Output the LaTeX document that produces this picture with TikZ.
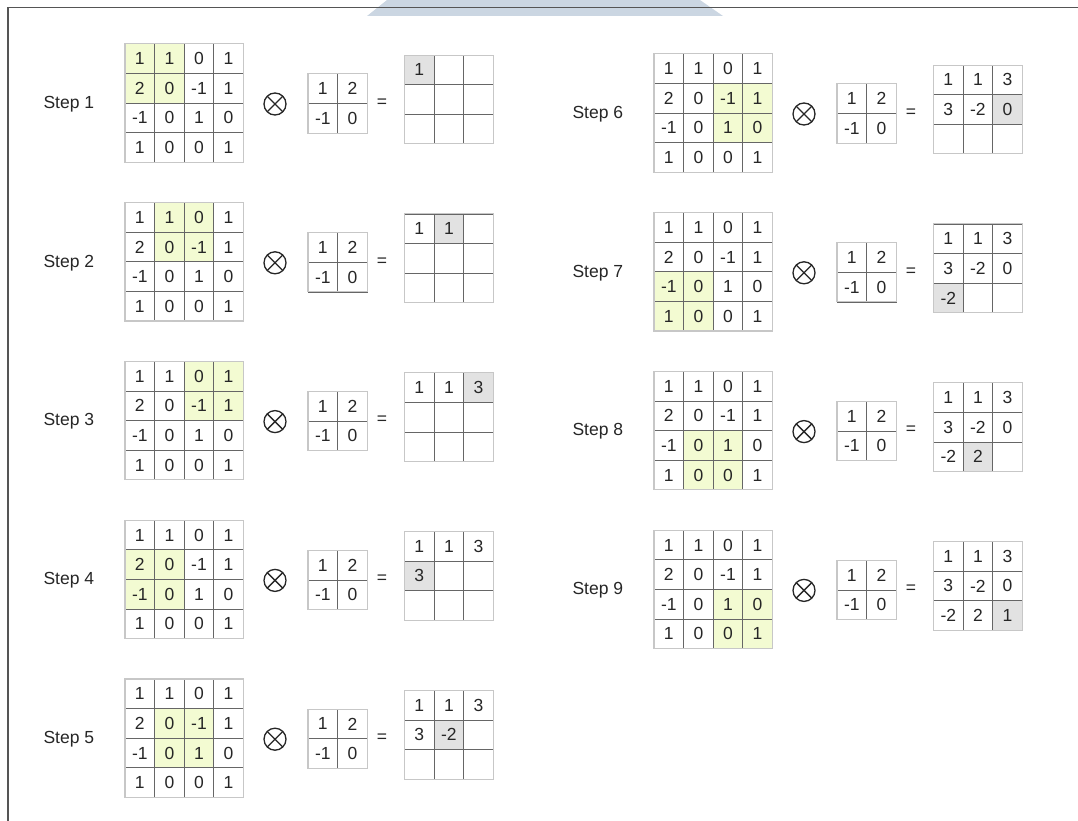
\documentclass[tikz,border=0pt]{standalone}
\usepackage{fontspec}
\setmainfont{Liberation Sans}
\usepackage{tikz}

\definecolor{window}{HTML}{F3FBD2}
\definecolor{current}{HTML}{E2E2E2}
\definecolor{tab}{HTML}{CBD6E2}
\definecolor{frameline}{HTML}{555555}

\begin{document}
\begin{tikzpicture}[x=1pt, y=-1pt,
	every node/.style={font=\fontsize{17.5}{20}\selectfont, text=black!85},
	cell/.style={draw=black!60, line width=0.8pt, minimum size=29.6pt, inner sep=0pt, outer sep=0pt},
	border/.style={draw=black!22, line width=1.1pt},
	otimes/.style={circle, draw=black!85, line width=1.3pt, minimum size=22pt, inner sep=0pt,
		path picture={\draw[black!85, line width=1.3pt]
			(path picture bounding box.north west) -- (path picture bounding box.south east)
			(path picture bounding box.north east) -- (path picture bounding box.south west);}}]
	\useasboundingbox (0,0) rectangle (1078,821);
	\fill[tab] (387,0) -- (700,0) -- (723,16) -- (367,16) -- cycle;
	\draw[frameline, line width=1.5pt] (8,821) -- (8,7.5) -- (1078,7.5);
	\foreach \k in {1,...,9} {
		\pgfmathtruncatemacro\col{\k>5}
		\pgfmathsetmacro\dx{529*\col}
		\pgfmathsetmacro\cy{\col==0 ? 103+158.8*(\k-1) : 113+158.8*(\k-6)}
		\pgfmathtruncatemacro\wr{int((\k-1)/3)}
		\pgfmathtruncatemacro\wc{mod(\k-1,3)}
		\pgfmathtruncatemacro\last{\k-1}
		\node[anchor=west] (lbl\k) at (40+\dx, \cy+1) {Step \k};
		\foreach \v [count=\n from 0] in {1,1,0,1,2,0,-1,1,-1,0,1,0,1,0,0,1} {
			\pgfmathtruncatemacro\ir{int(\n/4)}
			\pgfmathtruncatemacro\ic{mod(\n,4)}
			\pgfmathtruncatemacro\hl{(\ir>=\wr)&&(\ir<=\wr+1)&&(\ic>=\wc)&&(\ic<=\wc+1)}
			\ifnum\hl=1 \def\tone{window}\else\def\tone{white}\fi
			\node[cell, fill=\tone] (in\k-\n) at (125+\dx+29.6*\ic+14.8, \cy-59.2+29.6*\ir+14.8) {\v};
		}
		\draw[border] (in\k-0.north west) rectangle (in\k-15.south east);
		\node[otimes] (op\k) at (275+\dx, \cy+1) {};
		\foreach \v [count=\n from 0] in {1,2,-1,0} {
			\pgfmathtruncatemacro\ir{int(\n/2)}
			\pgfmathtruncatemacro\ic{mod(\n,2)}
			\node[cell] (ker\k-\n) at (308+\dx+29.6*\ic+14.8, \cy+0.5-29.6+29.6*\ir+14.8) {\v};
		}
		\draw[border] (ker\k-0.north west) rectangle (ker\k-3.south east);
		\node (eq\k) at (382+\dx, \cy) {=};
		\foreach \v [count=\n from 0] in {1,1,3,3,-2,0,-2,2,1} {
			\pgfmathtruncatemacro\ir{int(\n/3)}
			\pgfmathtruncatemacro\ic{mod(\n,3)}
			\ifnum\n<\k \def\shown{\v}\else\def\shown{}\fi
			\ifnum\n=\last \def\tone{current}\else\def\tone{white}\fi
			\node[cell, fill=\tone] (out\k-\n) at (404.5+\dx+29.6*\ic+14.8, \cy-3.5-44.4+29.6*\ir+14.8) {\shown};
		}
		\draw[border] (out\k-0.north west) rectangle (out\k-8.south east);
	}
\end{tikzpicture}
\end{document}
